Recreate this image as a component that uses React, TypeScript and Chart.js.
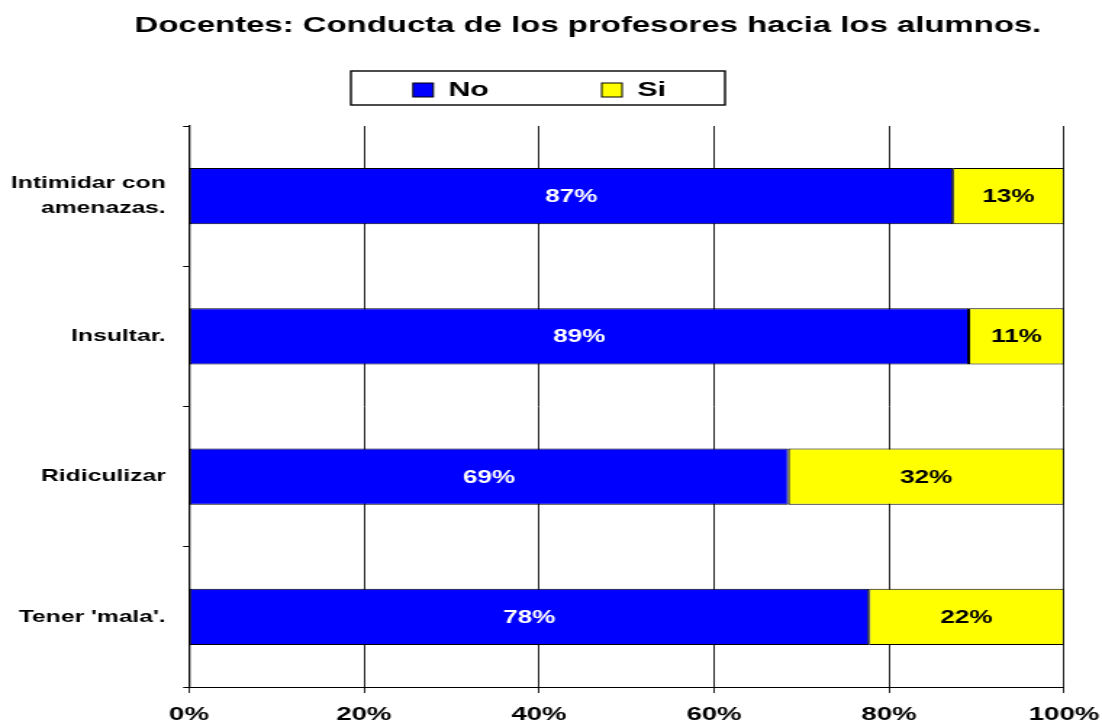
import React, { useEffect, useRef } from 'react';
import { Chart, registerables } from 'chart.js';

Chart.register(...registerables);

// ---- data ----
const chartTitle = 'Docentes: Conducta de los profesores hacia los alumnos.';
const categories: (string | string[])[] = [['Intimidar con', 'amenazas.'], 'Insultar.', 'Ridiculizar', "Tener 'mala'."];
const seriesNames = ['No', 'Si'];
const noValues = [87.3, 89.1, 68.5, 77.7];
const siValues = [12.7, 10.9, 31.5, 22.3];
const xTickValues = [0, 20, 40, 60, 80, 100];

// ---- geometry (canvas is drawn narrow and stretched horizontally, like the reference) ----
const CANVAS_W = 760;
const CANVAS_H = 725;
const FONT = '"Liberation Sans", Arial, sans-serif';

const titlePlugin = {
  id: 'customTitle',
  afterDraw(chart: any) {
    const ctx = chart.ctx;
    ctx.save();
    ctx.font = `bold 22.7px ${FONT}`;
    ctx.fillStyle = '#000';
    ctx.textAlign = 'center';
    ctx.textBaseline = 'middle';
    ctx.fillText(chartTitle, 405.5, 26);
    ctx.restore();
  },
};

const legendPlugin = {
  id: 'boxedLegend',
  afterDraw(chart: any) {
    const ctx = chart.ctx;
    const box = { left: 242, top: 71, right: 500, bottom: 105 };
    const itemX = [284.8, 415];
    const cy = 90;
    ctx.save();
    ctx.strokeStyle = '#000';
    ctx.lineWidth = 1.4;
    ctx.fillStyle = '#fff';
    ctx.fillRect(box.left, box.top, box.right - box.left, box.bottom - box.top);
    ctx.strokeRect(box.left, box.top, box.right - box.left, box.bottom - box.top);
    ctx.font = `bold 21px ${FONT}`;
    ctx.textBaseline = 'middle';
    ctx.textAlign = 'left';
    chart.data.datasets.forEach((ds: any, i: number) => {
      const x = itemX[i];
      ctx.fillStyle = ds.backgroundColor;
      ctx.fillRect(x, cy - 7, 14, 14);
      ctx.lineWidth = 1;
      ctx.strokeStyle = '#000';
      ctx.strokeRect(x, cy - 7, 14, 14);
      ctx.fillStyle = '#000';
      ctx.fillText(ds.label, x + 24.4, cy);
    });
    ctx.restore();
  },
};

const dataLabelPlugin = {
  id: 'barValueLabels',
  afterDatasetsDraw(chart: any) {
    const ctx = chart.ctx;
    ctx.save();
    ctx.font = `bold 18px ${FONT}`;
    ctx.textAlign = 'center';
    ctx.textBaseline = 'middle';
    chart.data.datasets.forEach((ds: any, di: number) => {
      const meta = chart.getDatasetMeta(di);
      meta.data.forEach((bar: any, i: number) => {
        const { x, y } = bar.getCenterPoint();
        ctx.fillStyle = ds.labelColor;
        ctx.fillText(`${Math.round(ds.data[i])}%`, x, y + 1);
      });
    });
    ctx.restore();
  },
};

export default function App() {
  const canvasRef = useRef<HTMLCanvasElement | null>(null);

  useEffect(() => {
    if (!canvasRef.current) return;
    const chart = new Chart(canvasRef.current, {
      type: 'bar',
      data: {
        labels: categories,
        datasets: [
          {
            label: seriesNames[0],
            data: noValues,
            backgroundColor: '#0000ff',
            borderColor: '#000',
            borderWidth: 1,
            borderSkipped: false,
            barPercentage: 0.4,
            categoryPercentage: 1,
            labelColor: '#ffffff',
          } as any,
          {
            label: seriesNames[1],
            data: siValues,
            backgroundColor: '#ffff00',
            borderColor: '#000',
            borderWidth: 1,
            borderSkipped: false,
            barPercentage: 0.4,
            categoryPercentage: 1,
            labelColor: '#000000',
          } as any,
        ],
      },
      options: {
        indexAxis: 'y',
        responsive: false,
        animation: false,
        layout: { padding: { top: 126, right: 26.2, bottom: 0, left: 0 } },
        plugins: {
          legend: { display: false },
          title: { display: false },
          tooltip: { enabled: false },
        },
        scales: {
          x: {
            stacked: true,
            min: 0,
            max: 100,
            afterBuildTicks: (scale: any) => {
              scale.ticks = xTickValues.map((v) => ({ value: v }));
            },
            afterFit: (scale: any) => {
              scale.height = 38;
              scale.paddingLeft = 0;
              scale.paddingRight = 0;
            },
            grid: {
              color: '#222',
              lineWidth: 1,
              drawOnChartArea: true,
              drawTicks: true,
              tickLength: 6,
              tickColor: '#222',
            },
            border: { display: true, color: '#000', width: 1 },
            ticks: {
              color: '#000',
              padding: 10,
              maxRotation: 0,
              font: { family: FONT, size: 19, weight: 'bold' },
              callback: (v: any) => `${v}%`,
            },
          },
          y: {
            stacked: true,
            afterFit: (scale: any) => {
              scale.width = 130.3;
              scale.paddingTop = 0;
              scale.paddingBottom = 0;
            },
            grid: {
              display: true,
              drawOnChartArea: false,
              drawTicks: true,
              tickLength: 4,
              tickColor: '#000',
              offset: true,
            },
            border: { display: true, color: '#000', width: 1.3 },
            ticks: {
              color: '#000',
              padding: 12,
              font: { family: FONT, size: 17, weight: 'bold', lineHeight: 1.45 },
            },
          },
        },
      },
      plugins: [dataLabelPlugin, titlePlugin, legendPlugin],
    } as any);
    return () => chart.destroy();
  }, []);

  return (
    <div style={{ position: 'absolute', left: 0, top: 0, width: 1102, height: 725, background: '#fff' }}>
      <canvas
        ref={canvasRef}
        width={CANVAS_W}
        height={CANVAS_H}
        style={{ width: '1102px', height: '725px', display: 'block' }}
      />
    </div>
  );
}
